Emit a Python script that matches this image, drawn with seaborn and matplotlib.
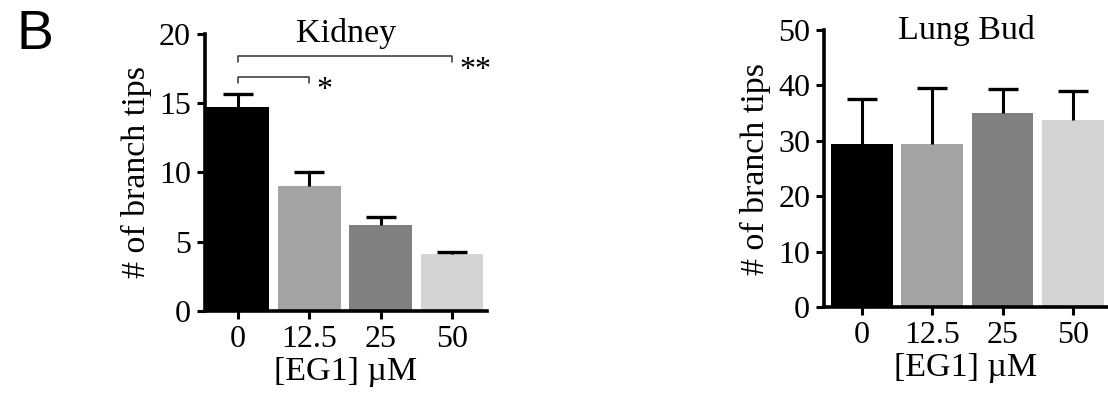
import numpy as np
import pandas as pd
import matplotlib
matplotlib.use('Agg')
import matplotlib.pyplot as plt
import seaborn as sns

# data
doses = ['0', '12.5', '25', '50']
kidney_mean = [14.7, 9.0, 6.2, 4.1]
kidney_sem = [0.95, 1.05, 0.6, 0.17]
lung_mean = [29.4, 29.4, 35.1, 33.7]
lung_sem = [8.2, 10.2, 4.2, 5.3]
bar_colors = ['#000000', '#a3a3a8', '#808080', '#d4d4d4']

sns.set_style('ticks')
plt.rcParams['font.family'] = ['Liberation Serif', 'DejaVu Serif']
plt.rcParams['text.color'] = 'black'
plt.rcParams['axes.labelcolor'] = 'black'

fs_tick = 23
fs_lab = 24.5
fig = plt.figure(figsize=(11.08, 3.95), dpi=100)
ax1 = fig.add_axes([0.185, 0.213, 0.2545, 0.701])
ax2 = fig.add_axes([0.7437, 0.2228, 0.2563, 0.701])


def draw_panel(ax, means, sems, ymax, step, title, xlim):
    df = pd.DataFrame({'dose': doses, 'tips': means})
    sns.barplot(data=df, x='dose', y='tips', hue='dose', order=doses,
                palette=bar_colors, width=0.88, legend=False, ax=ax,
                linewidth=0, zorder=2)
    xs = np.arange(len(doses))
    # upper error bar only
    _, caps, _ = ax.errorbar(xs, means, yerr=[np.zeros(len(sems)), sems],
                             fmt='none', ecolor='black', elinewidth=2.2,
                             capsize=10.5, capthick=2.4, zorder=3)
    caps[0].set_visible(False)
    ax.set_ylim(0, ymax)
    ax.set_xlim(*xlim)
    ax.set_yticks(np.arange(0, ymax + 1, step))
    ax.set_xlabel('[EG1] µM', fontsize=fs_lab, labelpad=2)
    ax.set_ylabel('# of branch tips', fontsize=fs_lab, labelpad=5)
    ax.tick_params(axis='both', labelsize=fs_tick, width=2.2, length=6,
                   direction='out', pad=4, colors='black')
    for s in ['left', 'bottom']:
        ax.spines[s].set_linewidth(2.6)
        ax.spines[s].set_color('black')
    sns.despine(ax=ax)
    ax.text(0.5, 1.0, title, transform=ax.transAxes, ha='center',
            va='center', fontsize=fs_lab)


draw_panel(ax1, kidney_mean, kidney_sem, 20, 5, 'Kidney', (-0.46, 3.49))
draw_panel(ax2, lung_mean, lung_sem, 50, 10, 'Lung Bud', (-0.54, 3.5))

# significance brackets on the kidney panel
brackets = [(0, 1, 16.9, '*'), (0, 3, 18.4, '**')]
for x0, x1, yb, star in brackets:
    ax1.plot([x0, x0, x1, x1], [yb - 0.45, yb, yb, yb - 0.45],
             color='#333333', lw=1.1, clip_on=False)
    ax1.text(x1 + 0.1, yb - 2.05, star, ha='left', va='bottom',
             fontsize=23, clip_on=False)

fig.text(0.015, 0.875, 'B', fontsize=40, family='Liberation Sans',
         ha='left', va='baseline')

fig.savefig('out.png', dpi=100)
